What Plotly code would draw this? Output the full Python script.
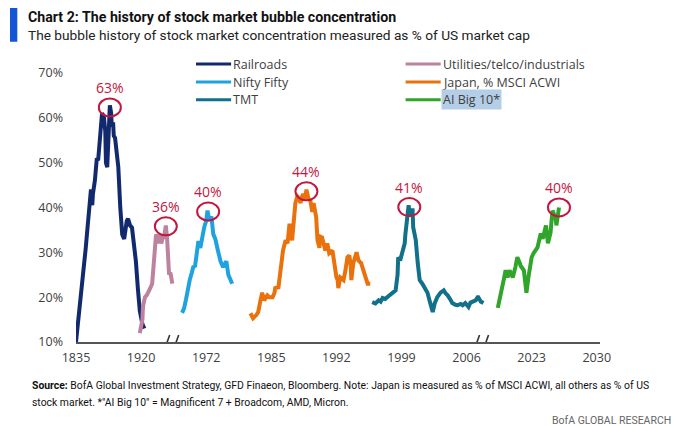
import plotly.graph_objects as go

# x is in axis "slots" (broken axis: one slot per tick label), y in % of market cap
tick_labels = ["1835", "1920", "1972", "1985", "1992", "1999", "2006", "2023", "2030"]
y_ticks = [10, 20, 30, 40, 50, 60, 70]

names = ["Railroads", "Utilities/telco/industrials", "Nifty Fifty",
         "Japan, % MSCI ACWI", "TMT", "AI Big 10*"]
colors = ["#13296e", "#bd829f", "#1fa3e0", "#e9720d", "#11708a", "#31a52a"]

rail_x = [0.00, 0.03, 0.06, 0.11, 0.15, 0.18, 0.22, 0.23, 0.25, 0.26, 0.29, 0.31, 0.32, 0.34,
          0.37, 0.40, 0.42, 0.43, 0.45, 0.46, 0.48, 0.49, 0.51, 0.52, 0.54, 0.55, 0.57, 0.58,
          0.60, 0.62, 0.65, 0.68, 0.71, 0.74, 0.75, 0.78, 0.80, 0.83, 0.86, 0.89, 0.92, 0.95,
          0.98, 1.02, 1.03, 1.05]
rail_y = [10, 14, 18, 24, 31, 36, 43.5, 44, 40.5, 43, 46, 50, 51, 50.5,
          55, 61, 60.5, 60, 57, 50, 49, 52, 60, 62.8, 61, 58, 59, 56,
          55.5, 52, 49, 40, 34, 33, 34.5, 37, 37.5, 36, 35.5, 32, 28, 22,
          17, 14, 13.5, 13]

util_x = [0.98, 1.02, 1.03, 1.06, 1.09, 1.11, 1.14, 1.17, 1.18, 1.20, 1.22, 1.23, 1.25, 1.26,
          1.28, 1.29, 1.31, 1.32, 1.34, 1.35, 1.37, 1.38, 1.40, 1.42, 1.43, 1.45, 1.46, 1.48]
util_y = [12, 15, 18, 20, 20.5, 21, 22, 23, 25, 28, 31, 34, 33, 32,
          34, 33, 32, 32.5, 34, 33, 35, 36, 33, 28, 25, 25.5, 24.5, 23]

nifty_x = [1.63, 1.66, 1.69, 1.72, 1.75, 1.78, 1.80, 1.83, 1.86, 1.88, 1.91, 1.92, 1.94, 1.97,
           2.00, 2.02, 2.03, 2.05, 2.08, 2.09, 2.11, 2.14, 2.15, 2.18, 2.22, 2.23, 2.26, 2.29,
           2.31, 2.34, 2.37, 2.40]
nifty_y = [16.5, 17.5, 19.5, 22, 24, 25.5, 26.7, 27, 30, 32.5, 31, 32, 33, 35.6,
           37, 39.3, 38.5, 37, 38, 36, 34, 33, 32.5, 30.4, 28, 27.5, 26.7, 27.5,
           28, 25, 23.8, 23]

japan_x = [2.68, 2.72, 2.77, 2.80, 2.83, 2.86, 2.89, 2.94, 2.97, 3.02, 3.05, 3.06, 3.11, 3.14,
           3.17, 3.18, 3.22, 3.25, 3.28, 3.29, 3.32, 3.34, 3.37, 3.40, 3.42, 3.45, 3.46, 3.49,
           3.52, 3.54, 3.57, 3.60, 3.63, 3.65, 3.68, 3.69, 3.71, 3.74, 3.75, 3.78, 3.82, 3.83,
           3.86, 3.89, 3.94, 3.97, 4.00, 4.02, 4.03, 4.06, 4.11, 4.14, 4.17, 4.20, 4.22, 4.23,
           4.26, 4.31, 4.34, 4.38, 4.42, 4.45, 4.48, 4.52]
japan_y = [16.4, 15.3, 16, 16.7, 19, 21, 19.3, 20.4, 20, 20, 21, 22, 22.2, 25.3,
           28, 30.4, 32.7, 32, 36.4, 34, 32.7, 35.6, 41, 42.5, 42.2, 41, 42, 43,
           42, 44, 42, 41.5, 39, 41, 38.5, 37.8, 32.7, 31, 33.5, 33.3, 31, 30.4,
           32, 29.8, 30.4, 26.7, 24.5, 23.8, 22, 24.4, 23.8, 26, 28.9, 29.3, 27, 23.8,
           27.6, 30, 28.2, 27.6, 26, 24.4, 23, 23]

tmt_x = [4.55, 4.60, 4.65, 4.68, 4.71, 4.75, 4.78, 4.83, 4.86, 4.91, 4.94, 4.95, 4.98, 5.02,
         5.05, 5.06, 5.09, 5.11, 5.12, 5.14, 5.15, 5.17, 5.18, 5.22, 5.25, 5.28, 5.32, 5.35,
         5.40, 5.43, 5.48, 5.51, 5.55, 5.60, 5.65, 5.68, 5.71, 5.75, 5.78, 5.83, 5.86, 5.91,
         5.94, 5.98, 6.03, 6.06, 6.09, 6.14, 6.17, 6.18, 6.22, 6.26]
tmt_y = [18.9, 18.6, 19.3, 19, 19.8, 19.6, 20, 20.5, 20.9, 21.5, 25, 28.9, 28.2, 31,
         32, 34, 37.8, 40.5, 39, 39.5, 38, 39.8, 35.6, 32.7, 27.6, 23.8, 23, 22.2,
         21, 19.3, 16.7, 18.6, 20, 21, 21.5, 20.8, 20.4, 19.5, 18.7, 18.3, 18.2, 18.5,
         18.2, 18.7, 17.8, 18.8, 19, 19.3, 20, 20, 19, 18.7]

ai_x = [6.48, 6.52, 6.55, 6.57, 6.60, 6.63, 6.66, 6.69, 6.71, 6.75, 6.78, 6.82, 6.83, 6.88,
        6.91, 6.92, 6.95, 6.98, 7.00, 7.03, 7.06, 7.09, 7.12, 7.14, 7.17, 7.20, 7.22, 7.25,
        7.28, 7.29, 7.32, 7.34, 7.37, 7.38, 7.42]
ai_y = [17.6, 20, 22, 23.8, 26, 24.4, 26, 25, 24.4, 26.7, 28.9, 27.5, 27, 26,
        23, 21, 24.4, 27, 28.9, 29.8, 30.5, 31.1, 33, 34.2, 33, 35, 36, 32,
        33.5, 34.4, 39.3, 38.7, 37.5, 36, 40]

series_x = [rail_x, util_x, nifty_x, japan_x, tmt_x, ai_x]
series_y = [rail_y, util_y, nifty_y, japan_y, tmt_y, ai_y]

# bubble peaks (circled)
peak_x = [0.52, 1.38, 2.03, 3.54, 5.12, 7.42]
peak_y = [62.3, 35.8, 39.1, 43.6, 40.1, 40.0]
peak_text = ["63%", "36%", "40%", "44%", "41%", "40%"]

breaks_x = [1.47, 6.23]

RED = "#c2173f"
GREY = "#404040"
HEAD = "Roboto"
SANS = "Open Sans"

fig = go.Figure()
for xs, ys, nm, col in zip(series_x, series_y, names, colors):
    fig.add_trace(go.Scatter(x=xs, y=ys, mode="lines", name=nm,
                             line=dict(color=col, width=4), showlegend=False))

shapes = []
annotations = []

for px_, py_, txt in zip(peak_x, peak_y, peak_text):
    shapes.append(dict(type="circle", xref="x", yref="y", xsizemode="pixel", ysizemode="pixel",
                       xanchor=px_, yanchor=py_, x0=-11, x1=11, y0=-9, y1=9,
                       line=dict(color=RED, width=2), layer="above"))
    annotations.append(dict(x=px_, y=py_, text=txt, showarrow=False, yshift=20,
                            font=dict(family=SANS, size=14, color=RED)))

# axis breaks "//"
for bx in breaks_x:
    shapes.append(dict(type="rect", xref="x", yref="y", xsizemode="pixel", ysizemode="pixel",
                       xanchor=bx, yanchor=10, x0=-4, x1=4, y0=-2, y1=2,
                       fillcolor="white", line=dict(width=0), layer="above"))
    for off in (-4.5, 4.5):
        shapes.append(dict(type="line", xref="x", yref="y", xsizemode="pixel", ysizemode="pixel",
                           xanchor=bx, yanchor=10, x0=off - 2.5, x1=off + 2.5, y0=-7, y1=7,
                           line=dict(color="#333333", width=1.6), layer="above"))

# hand-made legend, two columns of three
leg_x = [0.229, 0.629]
leg_y = [1.0, 0.935, 0.871]
for i, (nm, col) in enumerate(zip(names, colors)):
    lx = leg_x[i % 2]
    ly = leg_y[i // 2]
    shapes.append(dict(type="line", xref="paper", yref="paper", x0=lx, x1=lx + 0.067,
                       y0=ly, y1=ly, line=dict(color=col, width=3)))
    annotations.append(dict(xref="paper", yref="paper", x=lx + 0.067, y=ly, text=nm,
                            showarrow=False, xanchor="left", yanchor="middle",
                            bgcolor="#b5cee7" if nm.startswith("AI") else None,
                            borderpad=1,
                            font=dict(family=SANS, size=12.5, color=GREY)))

# title block
shapes.append(dict(type="rect", xref="paper", yref="paper", x0=-0.126, x1=-0.112,
                   y0=1.08, y1=1.21, fillcolor="#1457d6", line=dict(width=0)))
annotations += [
    dict(xref="paper", yref="paper", x=-0.093, y=1.2014, xanchor="left", yanchor="top",
         borderpad=0,
         text="<b>Chart 2: The history of stock market bubble concentration</b>", showarrow=False,
         font=dict(family=HEAD, size=14.2, color="#111111")),
    dict(xref="paper", yref="paper", x=-0.093, y=1.104, xanchor="left", yanchor="middle",
         borderpad=0,
         text="The bubble history of stock market concentration measured as % of US market cap",
         showarrow=False, font=dict(family=HEAD, size=13.7, color="#222222")),
    dict(xref="paper", yref="paper", x=-0.088, y=-0.158, xanchor="left", yanchor="middle",
         text="<b>Source:</b> BofA Global Investment Strategy, GFD Finaeon, Bloomberg. Note: Japan is "
              "measured as % of MSCI ACWI, all others as % of US", showarrow=False,
         font=dict(family=HEAD, size=10.4, color="#111111")),
    dict(xref="paper", yref="paper", x=-0.088, y=-0.219, xanchor="left", yanchor="middle",
         text='stock market. *"AI Big 10" = Magnificent 7 + Broadcom, AMD, Micron.', showarrow=False,
         font=dict(family=HEAD, size=10.4, color="#111111")),
    dict(xref="paper", yref="paper", x=1.14, y=-0.282, xanchor="right", yanchor="middle",
         text="BofA GLOBAL RESEARCH", showarrow=False,
         font=dict(family=HEAD, size=10.5, color="#666666")),
]

# the page puts the figure 8px in from the top-left corner, so size it to the visible area
fig.update_layout(
    width=672, height=418,
    margin=dict(l=68, r=80, t=56, b=84),
    paper_bgcolor="white", plot_bgcolor="white",
    showlegend=False,
    shapes=shapes, annotations=annotations,
    xaxis=dict(range=[0, 8.05], tickvals=list(range(len(tick_labels))), ticktext=tick_labels,
               showgrid=False, zeroline=False, showline=True, linecolor="#555555", linewidth=1.5,
               ticks="", ticklabelstandoff=3,
               tickfont=dict(family=SANS, size=12.5, color=GREY)),
    yaxis=dict(range=[10, 72], tickvals=y_ticks, ticktext=[f"{v}%" for v in y_ticks],
               showgrid=False, zeroline=False, showline=False, ticks="", ticklabelstandoff=12,
               tickfont=dict(family=SANS, size=12.5, color=GREY)),
)

fig.write_html("out.html")
